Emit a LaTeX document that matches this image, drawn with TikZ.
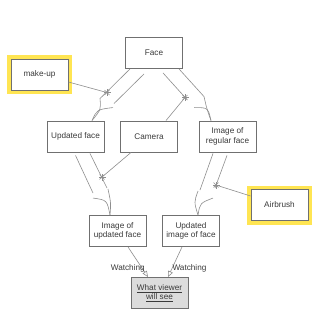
\documentclass[tikz,border=0pt]{standalone}
\usepackage{fontspec}
\setmainfont{Liberation Sans}
\usetikzlibrary{arrows.meta,calc}
\definecolor{edge}{HTML}{707070}
\definecolor{ink}{HTML}{3A3A3A}
\definecolor{wire}{HTML}{8E8E8E}
\definecolor{glow}{HTML}{FFE552}
\definecolor{shade}{HTML}{DCDCDC}

\begin{document}
\begin{tikzpicture}[
	x=1pt, y=-1pt,
	box/.style={
		draw=edge, line width=0.9pt, fill=white,
		minimum width=57pt, minimum height=31pt, inner sep=1pt,
		align=center, text=ink, font=\fontsize{8.2}{9.4}\selectfont
	},
	agent/.style={box, preaction={draw=glow, line width=8pt}},
	viewer/.style={box, fill=shade},
	flow/.style={draw=wire, line width=0.6pt},
	link/.style={draw=wire, line width=0.6pt},
	watch/.style={draw=wire, line width=0.6pt,
		-{Triangle[open, length=6pt, width=5pt]}},
	lbl/.style={text=ink, font=\fontsize{8.2}{9.4}\selectfont, inner sep=0pt},
	spark/.pic={\foreach \a in {0,45,90,135}
		\draw[wire, line width=0.5pt] (\a:3.5) -- (\a+180:3.5);}
]

% Canvas 319 x 320 px, y grows downwards
\fill[white] (0,0) rectangle (319,320);
\useasboundingbox (0,0) rectangle (319,320);

% Nodes
\node[box]    (face)     at (154,   53)    {Face};
\node[agent]  (makeup)   at (39.5,  74.5)  {make-up};
\node[box]    (updated)  at (75.5,  136.5) {Updated face};
\node[box]    (camera)   at (149,   136.5) {Camera};
\node[box]    (regimg)   at (227.5, 136.5) {Image of\\regular face};
\node[agent]  (airbrush) at (279.5, 205)   {Airbrush};
\node[box]    (imgupd)   at (117.5, 231)   {Image of\\updated face};
\node[box]    (updimg)   at (191,   231)   {Updated\\image of face};
\node[viewer] (viewer)   at (159.5, 293)   {\underline{What viewer}\\\underline{will see}};

% Tips where each flow meets its result
\coordinate (tip1) at ($(updated.north)+(16.5,0)$);
\coordinate (tip2) at ($(regimg.north)+(-16.5,0)$);
\coordinate (tip3) at ($(imgupd.north)+(-7.5,0)$);
\coordinate (tip4) at ($(updimg.north)+(7,0)$);

% Face -> Updated face
\draw[flow] ($(face.south)+(-24,0)$) -- ($(tip1)+(8,-22)$)
	.. controls ($(tip1)+(9,-11)$) .. (tip1);
\draw[flow] ($(face.south)+(-10,5)$) -- ($(tip1)+(22,-17)$);
\draw[flow] ($(tip1)+(21,-13)$) .. controls ($(tip1)+(5,-11)$) .. (tip1);

% Face -> Image of regular face
\draw[flow] ($(face.south)+(25,0)$) -- ($(tip2)+(-7,-24)$)
	.. controls ($(tip2)+(-4,-11)$) .. (tip2);
\draw[flow] ($(face.south)+(9,4)$) -- ($(tip2)+(-24,-21)$);
\draw[flow] ($(tip2)+(-17,-13)$) .. controls ($(tip2)+(-3,-13)$) .. (tip2);

% Updated face -> Image of updated face
\draw[flow] ($(updated.south)+(0,3)$) -- ($(tip3)+(-17,-22)$);
\draw[flow] ($(tip3)+(-17,-17)$) .. controls ($(tip3)+(-3,-15)$) .. (tip3);
\draw[flow] ($(updated.south)+(14.5,1)$) -- ($(tip3)+(-3,-27)$);
\draw[flow] ($(tip3)+(-2,-26)$) .. controls ($(tip3)+(1,-12)$) .. (tip3);

% Image of regular face -> Updated image of face
\draw[flow] ($(regimg.south)+(-14.5,1)$) -- ($(tip4)+(2,-25)$);
\draw[flow] ($(tip4)+(0,-24)$) .. controls ($(tip4)+(-4,-13)$) .. (tip4);
\draw[flow] ($(regimg.south)+(-0.5,3)$) -- ($(tip4)+(17,-27)$);
\draw[flow] ($(tip4)+(15,-17)$) .. controls ($(tip4)+(2,-12)$) .. (tip4);

% Agents touching the flows
\coordinate (s1) at ($(tip1)+(15,-28)$);
\coordinate (s2) at ($(tip2)+(-26,-23)$);
\coordinate (s3) at ($(tip3)+(-8,-38)$);
\coordinate (s4) at ($(tip4)+(18,-30)$);
\draw[link] ($(makeup.east)+(0,7.5)$) -- (s1);
\draw[link] ($(camera.north)+(17,0)$) -- (s2);
\draw[link] ($(camera.south)+(-18,0)$) -- (s3);
\draw[link] ($(airbrush.west)+(0,-9)$) -- (s4);
\foreach \s in {s1,s2,s3,s4} \pic at (\s) {spark};

% Watching
\draw[watch] ($(imgupd.south)+(10.5,0)$)
	-- node[lbl, pos=0.7, anchor=east, xshift=3pt] {Watching}
	($(viewer.north)+(-11.5,0)$);
\draw[watch] ($(updimg.south)+(-9,0)$)
	-- node[lbl, pos=0.7, anchor=west] {Watching}
	($(viewer.north)+(8.5,0)$);

\end{tikzpicture}
\end{document}
